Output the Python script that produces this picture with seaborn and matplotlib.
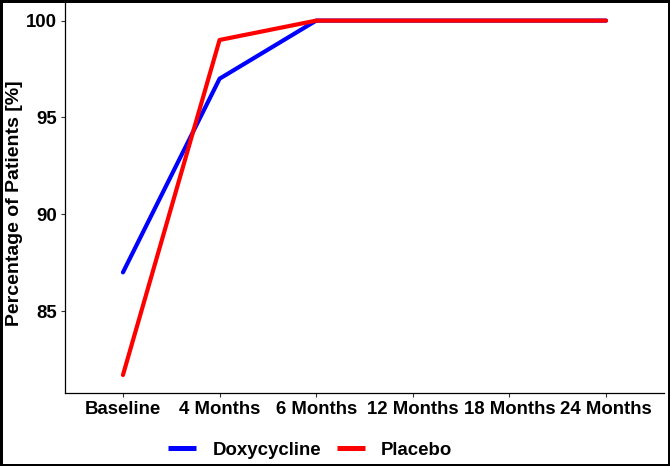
import pandas as pd
import matplotlib.pyplot as plt
import seaborn as sns

timepoints = ["Baseline", "4 Months", "6 Months", "12 Months", "18 Months", "24 Months"]
doxy = [87.0, 97.0, 100.0, 100.0, 100.0, 100.0]
placebo = [81.7, 99.0, 100.0, 100.0, 100.0, 100.0]

df = pd.DataFrame({
    "time": timepoints * 2,
    "pct": doxy + placebo,
    "group": ["Doxycycline"] * len(doxy) + ["Placebo"] * len(placebo),
})
df["pos"] = df["time"].map({t: i for i, t in enumerate(timepoints)})

sns.set_style("white")
plt.rcParams['font.family'] = ['Liberation Sans', 'DejaVu Sans']
plt.rcParams['font.weight'] = 'bold'
plt.rcParams['text.color'] = 'black'
plt.rcParams['axes.labelcolor'] = 'black'

fig = plt.figure(figsize=(6.7, 4.66), dpi=100)
fig.patch.set_edgecolor('black')
fig.patch.set_linewidth(2.5)
ax = fig.add_axes([0.097, 0.157, 0.894, 0.837])

sns.lineplot(data=df, x="pos", y="pct", hue="group",
             palette={"Doxycycline": "#0000ff", "Placebo": "#ff0000"},
             linewidth=3, ax=ax, legend=False)

ax.set_xlim(-0.6, 5.6)
ax.set_ylim(80.78, 100.92)
ax.set_xticks(range(len(timepoints)))
ax.set_xticklabels(timepoints, fontsize=13.4, fontweight='bold', color='black')
ax.set_yticks([85, 90, 95, 100])
ax.set_yticklabels(["85", "90", "95", "100"], fontsize=13.4, fontweight='bold', color='black')
ax.tick_params(axis='both', length=3, width=0.8, color='#333333', pad=3, bottom=True, left=True)
ax.set_xlabel("")
ax.set_ylabel("Percentage of Patients [%]", fontsize=14, fontweight='bold', color='black')
ax.yaxis.label.set_va('center')
ax.yaxis.set_label_coords(-0.084, 0.487)
sns.despine(ax=ax)
for s in ['left', 'bottom']:
    ax.spines[s].set_color('black')
    ax.spines[s].set_linewidth(0.9)

handles = [plt.Line2D([], [], color='#0000ff', linewidth=3.6, solid_capstyle='butt'),
           plt.Line2D([], [], color='#ff0000', linewidth=3.6, solid_capstyle='butt')]
fig.legend(handles, ["Doxycycline", "Placebo"], loc='center', ncol=2,
           bbox_to_anchor=(0.463, 0.034), frameon=False,
           prop={'size': 13.4, 'weight': 'bold'},
           handlelength=1.5, handletextpad=0.86, columnspacing=0.86)

fig.savefig("out.png", dpi=100)
